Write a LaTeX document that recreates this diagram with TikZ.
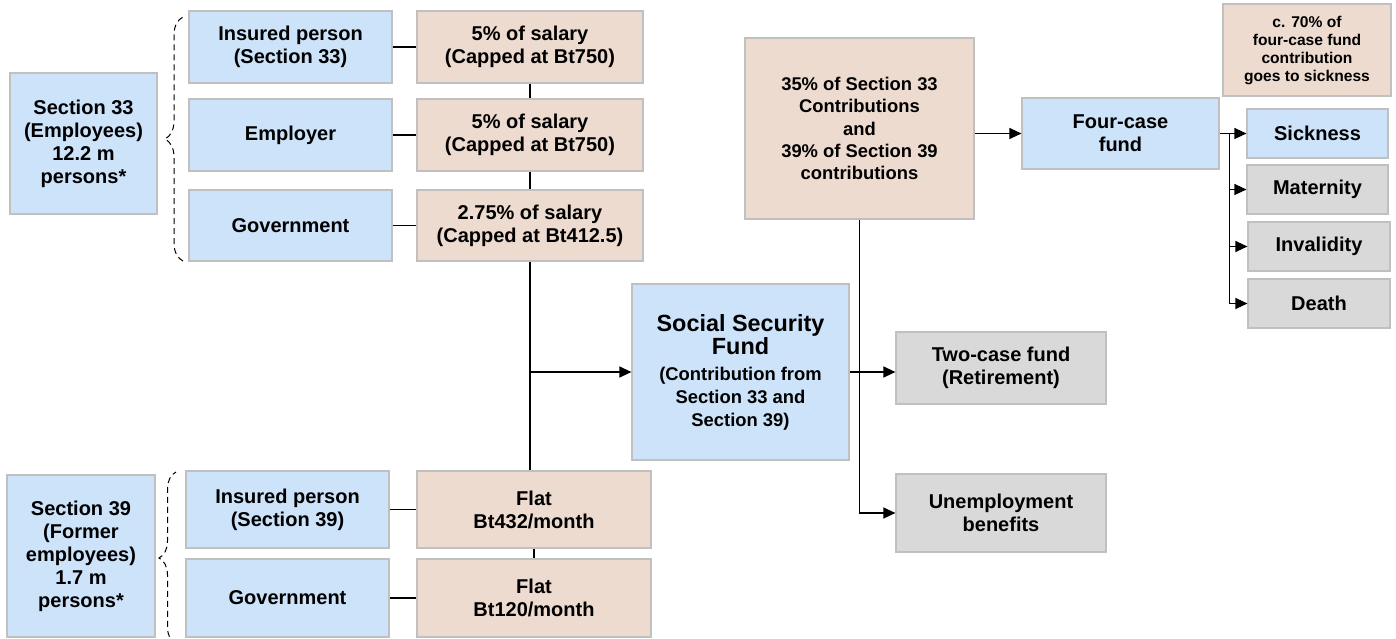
\documentclass[tikz,border=0pt]{standalone}
\usepackage{fontspec}
\setmainfont{Liberation Sans}
\usetikzlibrary{calc,arrows.meta,decorations.pathreplacing}
\definecolor{boxblue}{RGB}{204,227,250}
\definecolor{boxtan}{RGB}{237,219,208}
\definecolor{boxgrey}{RGB}{217,217,217}
\definecolor{boxline}{RGB}{192,192,192}
\newcommand{\ssfbig}{\fontsize{11.7}{13.5}\selectfont}
\newcommand{\ssfsmall}{\fontsize{9.2}{11.2}\selectfont}

\begin{document}
\begin{tikzpicture}[x=0.5pt,y=-0.5pt,
    cell/.style 2 args={draw=boxline,line width=0.6pt,align=center,inner sep=0pt,
      minimum width=#1*0.5pt,minimum height=#2*0.5pt,
      font=\bfseries\fontsize{10}{11.5}\selectfont},
    blu/.style 2 args={cell={#1}{#2},fill=boxblue},
    tan/.style 2 args={cell={#1}{#2},fill=boxtan},
    grey/.style 2 args={cell={#1}{#2},fill=boxgrey},
    link/.style={line width=0.65pt},
    feed/.style={link,-{Triangle[length=6pt,width=5.5pt]}},
    curly/.style={line width=0.5pt,dash pattern=on 3pt off 2pt,decorate,
      decoration={brace,amplitude=#1}}]
  \useasboundingbox (0,0) rectangle (1396,638);

  % Section 33
  \node[blu={147}{141}] (sec33) at (83.5,143.5) {Section 33\\(Employees)\\12.2 m\\persons*};
  \node[blu={203}{72}] (ins33) at (290.5,47) {Insured person\\(Section 33)};
  \node[blu={203}{72}] (empl) at (290.5,135) {Employer};
  \node[blu={203}{71}] (gov33) at (290.5,225.5) {Government};
  \node[tan={226}{72}] (pay1) at (530,47) {5\% of salary\\(Capped at Bt750)};
  \node[tan={226}{72}] (pay2) at (530,135) {5\% of salary\\(Capped at Bt750)};
  \node[tan={226}{71}] (pay3) at (530,225.5) {2.75\% of salary\\(Capped at Bt412.5)};
  \draw[curly=9pt] (183,261) -- (183,17);

  % Section 39
  \node[blu={148}{162}] (sec39) at (81,556) {Section 39\\(Former\\employees)\\1.7 m\\persons*};
  \node[blu={203}{77}] (ins39) at (287.5,509.5) {Insured person\\(Section 39)};
  \node[blu={203}{78}] (gov39) at (287.5,598) {Government};
  \node[tan={234}{77}] (flat1) at (534,509.5) {Flat\\Bt432/month};
  \node[tan={234}{78}] (flat2) at (534,598) {Flat\\Bt120/month};
  \draw[curly=8.5pt] (176,644) -- (176,472);

  \node[blu={217}{176}] (ssf) at (740.5,372)
    {\ssfbig Social Security\\\ssfbig Fund\\[1.5pt]\ssfsmall (Contribution from\\\ssfsmall Section 33 and\\\ssfsmall Section 39)};
  \node[tan={229}{181},font=\bfseries\fontsize{9.2}{11.2}\selectfont] (share) at (859.5,128.5)
    {35\% of Section 33\\Contributions\\and\\39\% of Section 39\\contributions};
  \node[blu={197}{71}] (four) at (1120.5,133.5) {Four-case\\fund};
  \node[tan={168}{92},font=\bfseries\fontsize{7.8}{9}\selectfont] (note) at (1307,50)
    {c. 70\% of\\four-case fund\\contribution\\goes to sickness};
  \node[blu={141}{49}] (sick) at (1317.5,133.5) {Sickness};
  \node[grey={141}{49}] (mat) at (1317.5,189.5) {Maternity};
  \node[grey={142}{49}] (inv) at (1319,246.5) {Invalidity};
  \node[grey={142}{49}] (death) at (1319,303.5) {Death};
  \node[grey={210}{72}] (two) at (1001,368) {Two-case fund\\(Retirement)};
  \node[grey={210}{78}] (unemp) at (1001,513) {Unemployment\\benefits};

  % contribution rows
  \foreach \a/\b in {ins33/pay1,empl/pay2,gov33/pay3,ins39/flat1,gov39/flat2}
    \draw[link] (\a) -- (\b);
  \draw[link] (pay1) -- (pay2);
  \draw[link] (pay2) -- (pay3);
  \draw[link] (pay3.south) -- (pay3.south |- flat1.north);
  \draw[link] (flat1) -- (flat2);
  \draw[feed] (pay3.south |- ssf.west) -- (ssf.west);

  % payouts
  \draw[feed] (ssf.east) -- (ssf.east -| two.west);
  \draw[feed] (share.south) |- (unemp.west);
  \draw[feed] (four.west -| share.east) -- (four.west);
  \draw[link] (four.east) -- ++(10,0) coordinate (fork);
  \foreach \c in {sick,mat,inv,death}
    \draw[feed] (fork) |- (\c.west);
\end{tikzpicture}
\end{document}
